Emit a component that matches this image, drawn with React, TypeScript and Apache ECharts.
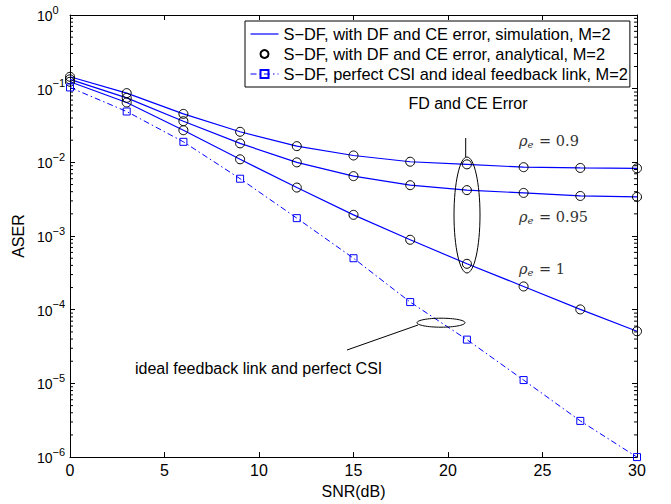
import React, { useEffect, useRef } from "react";
import * as echarts from "echarts";

// SNR (dB) sample points
const snr = [0, 3, 6, 9, 12, 15, 18, 21, 24, 27, 30];
// ASER, rho_e = 0.9
const rho09 = [0.145, 0.087, 0.0455, 0.026, 0.0166, 0.0124, 0.0102, 0.0094, 0.0086, 0.0084, 0.0083];
// ASER, rho_e = 0.95
const rho095 = [0.134, 0.075, 0.0362, 0.0181, 0.01, 0.0065, 0.0049, 0.0042, 0.00385, 0.0035, 0.0034];
// ASER, rho_e = 1
const rho1 = [0.124, 0.065, 0.0273, 0.011, 0.00455, 0.00194, 0.00089, 0.00042, 0.000207, 0.000101, 0.000051];
// ASER, perfect CSI and ideal feedback
const ideal = [0.104, 0.049, 0.019, 0.006, 0.00175, 0.0005, 0.000127, 0.0000393, 0.0000111, 0.0000031, 0.000001];

const SIM = "S\u2212DF, with DF and CE error, simulation, M=2";
const ANA = "S\u2212DF, with DF and CE error, analytical, M=2";
const IDEAL = "S\u2212DF, perfect CSI and ideal feedback link, M=2";

const decades = [1e-6, 1e-5, 1e-4, 1e-3, 1e-2, 1e-1];
const minorMult = [2, 3, 4, 5, 6, 7, 8, 9];

const FONT = "Liberation Sans, Arial, sans-serif";
const SERIF = "DejaVu Serif, serif";
const BLUE = "#0000ff";

const pairs = (ys: number[]) => snr.map((x, i) => [x, ys[i]]);

export default function App() {
  const ref = useRef<HTMLDivElement>(null);
  useEffect(() => {
    if (!ref.current) return;
    document.body.style.margin = "0";
    const chart = echarts.init(ref.current, null, { renderer: "svg" });

    const minorTicks: number[][] = [];
    decades.forEach((d) => minorMult.forEach((m) => minorTicks.push([0, d * m])));

    const simSeries = [rho09, rho095, rho1].map((arr) => ({
      type: "line",
      name: SIM,
      data: pairs(arr),
      symbol: "none",
      lineStyle: { color: BLUE, width: 1.2 },
      itemStyle: { color: BLUE },
      z: 2,
    }));
    const anaSeries = [rho09, rho095, rho1].map((arr) => ({
      type: "line",
      name: ANA,
      data: pairs(arr),
      symbol: "circle",
      symbolSize: 9,
      showAllSymbol: true,
      lineStyle: { width: 0, opacity: 0 },
      itemStyle: { color: "rgba(0,0,0,0)", borderColor: "#000", borderWidth: 1 },
      clip: false,
      z: 3,
    }));

    const rhoLabel = (val: string, x: number, y: number) => ({
      type: "text",
      x,
      y,
      z: 20,
      style: {
        text: `{r|\u03c1}{e|e}{n| = ${val}}`,
        verticalAlign: "middle",
        rich: {
          r: { fontFamily: SERIF, fontStyle: "italic", fontSize: 14.5, lineHeight: 16, verticalAlign: "top", fill: "#333" },
          e: { fontFamily: SERIF, fontStyle: "italic", fontSize: 10, lineHeight: 10, verticalAlign: "bottom", padding: [9, 1, 0, 0], fill: "#333" },
          n: { fontFamily: SERIF, fontSize: 14.5, lineHeight: 16, verticalAlign: "top", fill: "#333" },
        },
      },
    });

    chart.setOption({
      animation: false,
      backgroundColor: "#fff",
      textStyle: { fontFamily: FONT },
      grid: { left: 70, right: 34, top: 15, bottom: 45 },
      legend: {
        orient: "vertical",
        left: 245,
        top: 21,
        itemWidth: 28,
        itemHeight: 10,
        itemGap: 4,
        padding: [5, 2, 5, 5],
        borderColor: "#000",
        borderWidth: 1,
        backgroundColor: "#fff",
        z: 10,
        lineStyle: { width: 1 },
        textStyle: { fontFamily: FONT, fontSize: 16.4, color: "#000", lineHeight: 16 },
        data: [
          { name: SIM, icon: "path://M0,0 L28,0 L28,1.2 L0,1.2 Z" },
          ANA,
          IDEAL,
        ],
      },
      xAxis: [
        {
          type: "value",
          min: 0,
          max: 30,
          interval: 5,
          name: "SNR(dB)",
          nameLocation: "middle",
          nameGap: 21,
          nameTextStyle: { fontFamily: FONT, fontSize: 16, color: "#000" },
          axisLine: { onZero: false, lineStyle: { color: "#000", width: 1 } },
          axisTick: { inside: true, length: 5, lineStyle: { color: "#000" } },
          axisLabel: { margin: 5, fontFamily: FONT, fontSize: 16, color: "#000" },
          splitLine: { show: false },
        },
        {
          type: "value",
          position: "top",
          min: 0,
          max: 30,
          interval: 5,
          axisLine: { onZero: false, lineStyle: { color: "#000", width: 1 } },
          axisTick: { inside: true, length: 5, lineStyle: { color: "#000" } },
          axisLabel: { show: false },
          splitLine: { show: false },
        },
      ],
      yAxis: [
        {
          type: "log",
          logBase: 10,
          min: 1e-6,
          max: 1,
          interval: 1,
          name: "ASER",
          nameLocation: "middle",
          nameGap: 39,
          nameTextStyle: { fontFamily: FONT, fontSize: 16, color: "#000" },
          axisLine: { onZero: false, lineStyle: { color: "#000", width: 1 } },
          axisTick: { inside: true, length: 5, lineStyle: { color: "#000" } },
          axisLabel: {
            margin: 33,
            align: "left",
            formatter: (v: number) => {
              const e = Math.round(Math.log10(v));
              return `{b|10}{s|${e < 0 ? "\u2212" + -e : e}}`;
            },
            rich: {
              b: { fontFamily: FONT, fontSize: 14, lineHeight: 14, verticalAlign: "bottom", padding: [0, 0, 3, 0], color: "#000" },
              s: { fontFamily: FONT, fontSize: 11, lineHeight: 22, verticalAlign: "top", color: "#000" },
            },
          },
          splitLine: { show: false },
        },
        {
          type: "log",
          logBase: 10,
          position: "right",
          min: 1e-6,
          max: 1,
          interval: 1,
          axisLine: { onZero: false, lineStyle: { color: "#000", width: 1 } },
          axisTick: { inside: true, length: 5, lineStyle: { color: "#000" } },
          axisLabel: { show: false },
          splitLine: { show: false },
        },
      ],
      series: [
        ...simSeries,
        ...anaSeries,
        {
          type: "line",
          name: IDEAL,
          data: pairs(ideal),
          symbol: "rect",
          symbolSize: 7,
          showAllSymbol: true,
          lineStyle: { color: BLUE, width: 1, type: [6, 3, 1.5, 3] },
          itemStyle: { color: "rgba(0,0,0,0)", borderColor: BLUE, borderWidth: 1 },
          clip: false,
          z: 3,
        },
        {
          type: "custom",
          name: "minor",
          data: minorTicks,
          clip: false,
          silent: true,
          z: 1,
          renderItem: (params: any, api: any) => {
            const p = api.coord([api.value(0), api.value(1)]);
            const cs = params.coordSys;
            const style = { stroke: "#000", lineWidth: 1 };
            return {
              type: "group",
              children: [
                { type: "line", shape: { x1: cs.x, y1: p[1], x2: cs.x + 3, y2: p[1] }, style },
                { type: "line", shape: { x1: cs.x + cs.width - 3, y1: p[1], x2: cs.x + cs.width, y2: p[1] }, style },
              ],
            };
          },
        },
      ],
      graphic: [
        {
          type: "text",
          x: 468,
          y: 103,
          z: 20,
          style: { text: "FD and CE Error", font: `16px ${FONT}`, fill: "#000", align: "center", verticalAlign: "middle" },
        },
        { type: "line", z: 20, shape: { x1: 465.7, y1: 138, x2: 465.7, y2: 157 }, style: { stroke: "#000", lineWidth: 1 } },
        { type: "ellipse", z: 20, shape: { cx: 467, cy: 215, rx: 13, ry: 58 }, style: { stroke: "#000", fill: "none", lineWidth: 1 } },
        rhoLabel("0.9", 519, 141),
        rhoLabel("0.95", 519, 217),
        rhoLabel("1", 519, 269),
        { type: "ellipse", z: 20, shape: { cx: 441, cy: 322.7, rx: 24, ry: 4.5 }, style: { stroke: "#000", fill: "none", lineWidth: 1 } },
        { type: "line", z: 20, shape: { x1: 418, y1: 325, x2: 347, y2: 350 }, style: { stroke: "#000", lineWidth: 1 } },
        {
          type: "text",
          x: 135,
          y: 368,
          z: 20,
          style: { text: "ideal feedback link and perfect CSI", font: `16px ${FONT}`, fill: "#000", align: "left", verticalAlign: "middle" },
        },
      ],
    });
    return () => chart.dispose();
  }, []);
  return <div ref={ref} style={{ position: "fixed", left: 0, top: 0, width: 671, height: 504 }} />;
}
